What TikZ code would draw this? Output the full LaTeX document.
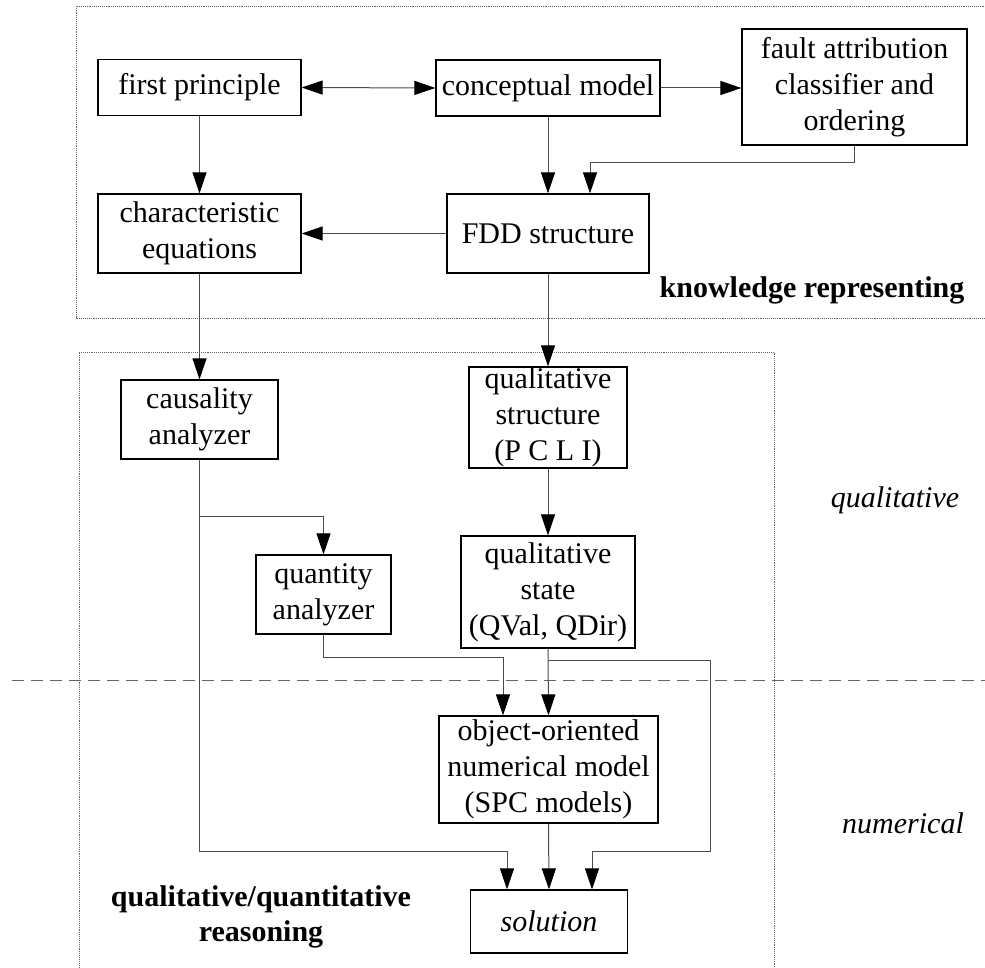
\documentclass[tikz,border=0pt]{standalone}
\usepackage{fontspec}
\setmainfont{Liberation Serif}
\usetikzlibrary{arrows.meta}
\begin{document}
\begin{tikzpicture}[x=1pt,y=-1pt,
  every node/.style={font=\fontsize{30}{36}\selectfont},
  blk/.style={draw=black,line width=1.2pt,align=center,inner sep=0pt},
  lbl/.style={inner sep=0pt,align=center},
  tipshape/.tip={Triangle[length=21pt,width=14pt,color=black]},
  link/.style={draw=black!70,line width=1pt,-tipshape},
  link2/.style={draw=black!70,line width=1pt,tipshape-tipshape},
  frame/.style={draw=black!60,line width=0.9pt,densely dotted},
  divider/.style={draw=black!60,line width=0.9pt,dash pattern=on 12pt off 7pt}]
\useasboundingbox (0,0) rectangle (985,968);

% dotted group frames
\draw[frame] (990,6) -- (76,6) -- (76,318) -- (990,318);
\draw[frame] (79,975) -- (79,352) -- (774,352) -- (774,975);
% qualitative / numerical divider
\draw[divider] (12,680) -- (990,680);

% knowledge representation blocks
\node[blk,minimum width=203pt,minimum height=56pt] (fp) at (199.5,87.5) {first principle};
\node[blk,minimum width=224pt,minimum height=56pt] (cm) at (548,88) {conceptual model};
\node[blk,minimum width=225pt,minimum height=116pt] (fa) at (854.5,87) {fault attribution\\classifier and\\ordering};
\node[blk,minimum width=203pt,minimum height=79pt] (ce) at (199.5,233.5) {characteristic\\equations};
\node[blk,minimum width=202pt,minimum height=79pt] (fdd) at (548,233.5) {FDD structure};

% reasoning blocks
\node[blk,minimum width=157pt,minimum height=79pt] (ca) at (199.5,419.5) {causality\\analyzer};
\node[blk,minimum width=158pt,minimum height=101pt] (qs) at (548,417.5) {qualitative\\structure\\(P C L I)};
\node[blk,minimum width=135pt,minimum height=79pt] (qa) at (323.5,594.5) {quantity\\analyzer};
\node[blk,minimum width=174pt,minimum height=112pt] (qst) at (548,592) {qualitative\\state\\(QVal, QDir)};
\node[blk,minimum width=219pt,minimum height=107pt] (om) at (548.5,769.5) {object-oriented\\numerical model\\(SPC models)};
\node[blk,minimum width=157pt,minimum height=63pt] (sol) at (549,921.5) {\itshape solution};

% labels
\node[lbl,font=\fontsize{30}{36}\selectfont\bfseries] (kr) at (812,290) {knowledge representing};
\node[lbl,font=\fontsize{30}{36}\selectfont\itshape] (qual) at (895,500) {qualitative};
\node[lbl,font=\fontsize{30}{36}\selectfont\itshape] (num) at (903,823) {numerical};
\node[lbl,font=\fontsize{30}{35}\selectfont\bfseries] (qqr) at (261,917) {qualitative/quantitative\\reasoning};

% junction points
\coordinate (fa1) at (854.5,163);
\coordinate (b1) at (199.5,516);
\coordinate (j1) at (199.5,851);
\coordinate (q1) at (323.5,657);
\coordinate (b2) at (548,660);
\coordinate (r1) at (710,851);

% connectors
\draw[link2] (fp.east) -- (cm.west);
\draw[link] (cm.east) -- (fa.west |- cm.east);
\draw[link] (fp.south) -- (ce.north);
\draw[link] (cm.south) -- (fdd.north);
\draw[link] (fa.south) -- (fa1) -| ([xshift=42pt]fdd.north);
\draw[link] (fdd.west) -- (ce.east |- fdd.west);
\draw[link] (ce.south) -- (ca.north);
\draw[link] (fdd.south) -- (qs.north);
\draw[link] (qs.south) -- (qst.north);
\draw[link] (b1) -| (qa.north);
\draw[link] (ca.south) -- (j1) -| ([xshift=-42pt]sol.north);
\draw[link] (qa.south) -- (q1) -| ([xshift=-45.5pt]om.north);
\draw[link] (qst.south) -- (om.north);
\draw[link] (b2) -| (r1) -| ([xshift=43pt]sol.north);
\draw[link] (om.south) -- (sol.north);
\end{tikzpicture}
\end{document}
